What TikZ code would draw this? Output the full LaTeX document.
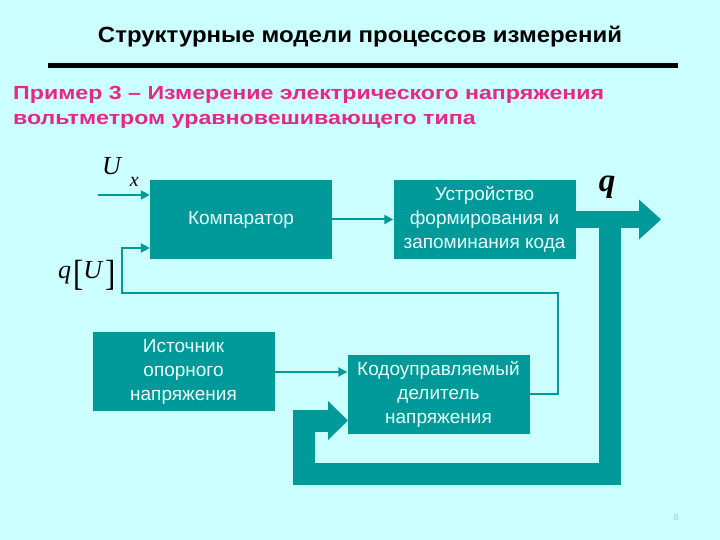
\documentclass[tikz,border=0pt]{standalone}
\usepackage{fontspec}
\usepackage{graphicx}
\setmainfont{Liberation Sans}
\newfontfamily\tms{Liberation Serif}
\newfontfamily\titlefont[FakeStretch=1.09]{Liberation Sans}
\newfontfamily\pinkfont[FakeStretch=1.22]{Liberation Sans}
\usetikzlibrary{arrows.meta}
\definecolor{bgc}{RGB}{204,255,255}
\definecolor{boxc}{RGB}{0,153,153}
\definecolor{pinkc}{RGB}{228,40,135}
\definecolor{boxtxt}{RGB}{232,255,255}
\begin{document}
\begin{tikzpicture}[x=1pt,y=-1pt,
  blk/.style={fill=boxc, draw=none, minimum width=182pt, minimum height=79pt, inner sep=0pt, text=boxtxt, align=center, font=\fontsize{19}{24}\selectfont},
  thinln/.style={draw=boxc, line width=2pt},
  arr/.style={thinln, -{Triangle[length=9pt,width=9pt]}},
  thick band/.style={draw=boxc, line join=miter},
  pinktxt/.style={anchor=base west, inner sep=0pt, text=pinkc, font=\pinkfont\bfseries\fontsize{19}{24}\selectfont},
  mathlbl/.style={font=\tms\itshape\fontsize{26}{26}\selectfont}
]
\fill[bgc] (0,0) rectangle (720,540);
\useasboundingbox (0,0) rectangle (720,540);

% title
\node[anchor=base, font=\titlefont\bfseries\fontsize{22}{26}\selectfont] (title) at (360,43) {Структурные модели процессов измерений};
\draw[line width=4.5pt] (48,65.5) -- (678,65.5);

\node[pinktxt] (sub1) at (13,100) {Пример 3 – Измерение электрического напряжения};
\node[pinktxt] (sub2) at (13,125) {вольтметром уравновешивающего типа};

% blocks
\node[blk] (comp) at (241,219.5) {Компаратор};
\node[blk] (dev) at (484.5,219.5) {Устройство\\формирования и\\запоминания кода};
\node[blk] (src) at (183.5,371.5) {Источник\\опорного\\напряжения};
\node[blk] (div) at (438.5,394.5) {Кодоуправляемый\\делитель\\напряжения};

% labels
\node[mathlbl, anchor=base west, inner sep=0pt] (ux) at (102,175) {U\kern9pt\raisebox{-12pt}{\fontsize{20}{20}\selectfont x}};
\node[mathlbl, anchor=base west, inner sep=0pt] (qu) at (58,278) {q\kern2pt\raisebox{-7pt}{\upshape\scalebox{1.1}[1.3]{\fontsize{28}{28}\selectfont[}}U\kern3pt\raisebox{-7pt}{\upshape\scalebox{1.1}[1.3]{\fontsize{28}{28}\selectfont]}}};
\node[font=\tms\itshape\bfseries\fontsize{33}{33}\selectfont, inner sep=0pt] (q) at (607,187) {q};
\node[text=boxc!35!bgc, font=\fontsize{9}{9}\selectfont] (pg) at (676,517) {6};

% thin connectors
\coordinate (uxin) at (98,195);
\draw[arr] (uxin) -- (comp.west |- uxin);
\draw[arr] (comp.east) -- (dev.west);
\draw[arr] (src.east |- div.west) ++(0,-22.5) coordinate (srcout) -- (div.west |- srcout);
\coordinate (fb1) at (558,394);
\coordinate (fb2) at (558,293);
\coordinate (fb3) at (122,293);
\coordinate (fb4) at (122,248);
\draw[arr] (div.east |- fb1) -- (fb1) -- (fb2) -- (fb3) -- (fb4) -- (comp.west |- fb4);

% thick output arrow
\coordinate (qhead) at (639,219.5);
\draw[thick band, line width=17pt] (dev.east) -- (qhead);
\fill[boxc] (639,199.5) -- (661,219.5) -- (639,239.5) -- cycle;

% thick feedback band
\coordinate (b1) at (610,219.5);
\coordinate (b2) at (610,474);
\coordinate (b3) at (303.5,474);
\coordinate (b4) at (303.5,420.5);
\coordinate (b5) at (329,420.5);
\draw[thick band, line width=22pt] (b1) -- (b2) -- (b3) -- (b4) -- (b5);
\fill[boxc] (328,401) -- (348,420.5) -- (328,440) -- cycle;
\end{tikzpicture}
\end{document}
